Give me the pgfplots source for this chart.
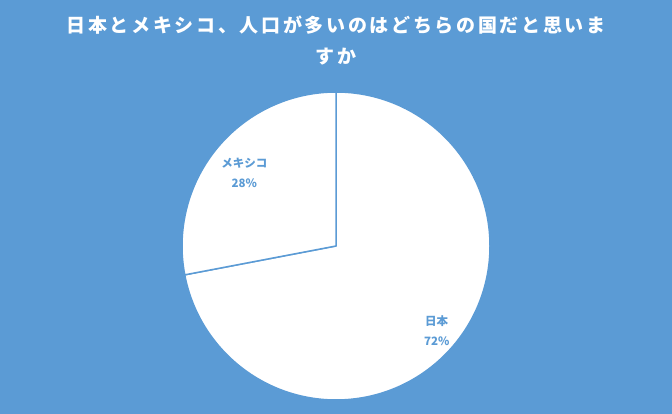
\documentclass[border=0pt]{standalone}
\usepackage{fontspec}
\usepackage{pgfplots}
\usepackage{pgfplotstable}
\pgfplotsset{compat=1.18}
\newfontfamily\cjk{Noto Sans CJK JP}
\newfontfamily\cjktitle{Noto Sans CJK JP}[LetterSpace=14]
\definecolor{bg}{RGB}{91,155,213}

% value, label radius (fraction of pie radius), label angle shift
\pgfplotstableread{
label value lr shift
日本 72 0.855 -0.5
メキシコ 28 0.76 1.2
}\piedata

\begin{document}
\begin{tikzpicture}[x=1pt,y=1pt]
\fill[bg] (0,0) rectangle (672,414);
\node[text=white,font=\cjktitle\bfseries\fontsize{19}{22}\selectfont] at (336,389) {日本とメキシコ、人口が多いのはどちらの国だと思いま};
\node[text=white,font=\cjktitle\bfseries\fontsize{19}{22}\selectfont] at (336,357) {すか};
\begin{axis}[
  at={(336pt,168pt)}, anchor=center,
  scale only axis, width=308pt, height=308pt,
  xmin=-1, xmax=1, ymin=-1, ymax=1,
  hide axis, clip=false,
]
\def\startangle{90}
\pgfplotsforeachungrouped \i in {0,1} {
  \pgfplotstablegetelem{\i}{value}\of\piedata
  \let\val=\pgfplotsretval
  \pgfplotstablegetelem{\i}{label}\of\piedata
  \let\lab=\pgfplotsretval
  \pgfplotstablegetelem{\i}{lr}\of\piedata
  \let\lr=\pgfplotsretval
  \pgfplotstablegetelem{\i}{shift}\of\piedata
  \let\lshift=\pgfplotsretval
  \pgfmathsetmacro\delta{3.6*\val}
  \pgfmathsetmacro\midangle{\startangle-\delta/2+\lshift}
  \pgfmathsetmacro\lx{\lr*cos(\midangle)}
  \pgfmathsetmacro\ly{\lr*sin(\midangle)}
  \pgfmathsetmacro\sx{cos(\startangle)}
  \pgfmathsetmacro\sy{sin(\startangle)}
  \edef\cmd{
    \noexpand\draw[fill=white, draw=bg, line width=1.5pt, line join=round]
      (axis cs:0,0) -- (axis cs:\sx,\sy)
      arc[start angle=\startangle, delta angle=-\delta, radius=154pt] -- cycle;
    \noexpand\node[text=bg, align=center, font=\noexpand\cjk\noexpand\bfseries\noexpand\fontsize{11.5}{20}\noexpand\selectfont]
      at (axis cs:\lx,\ly) {\lab\noexpand\\\val\noexpand\%};
  }
  \cmd
  \pgfmathsetmacro\startangle{\startangle-\delta}
  \global\let\startangle=\startangle
}
\end{axis}
\end{tikzpicture}
\end{document}
